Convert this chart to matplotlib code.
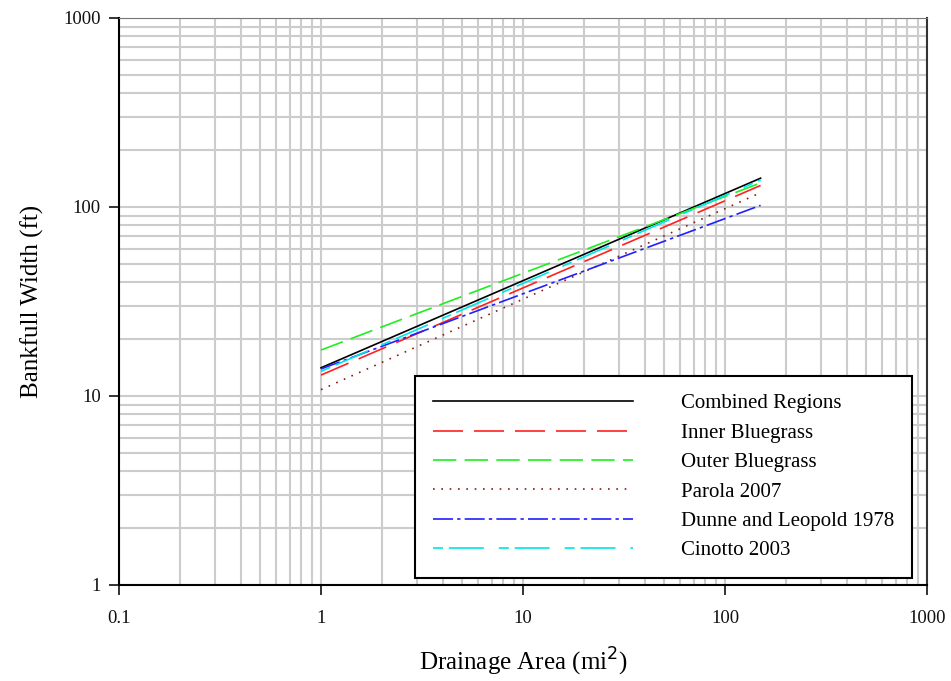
import numpy as np
import matplotlib.pyplot as plt

plt.rcParams['font.family'] = ['Liberation Serif', 'DejaVu Serif']

# Drainage area end points (mi^2) and bankfull width (ft)
area = [1, 150]
combined = [14.1, 142]
inner = [12.9, 130]
outer = [17.5, 134]
parola = [10.8, 119]
dunne = [13.9, 102]
cinotto = [13.5, 139]

labels = ['Combined Regions', 'Inner Bluegrass', 'Outer Bluegrass',
          'Parola 2007', 'Dunne and Leopold 1978', 'Cinotto 2003']

fig = plt.figure(figsize=(9.51, 6.81), dpi=100)
ax = fig.add_axes([0.1251, 0.1410, 0.8497, 0.8326])

lw = 1.2
ax.plot(area, combined, color='black', lw=lw, label=labels[0])
ax.plot(area, inner, color='#ff2020', lw=lw, dashes=(18, 6.6), label=labels[1])
ax.plot(area, outer, color='#20ee20', lw=lw, dashes=(14, 5), label=labels[2])
ax.plot(area, parola, color='#8b1a1a', lw=lw, dashes=(1, 4), label=labels[3])
ax.plot(area, dunne, color='#2020ff', lw=lw, dashes=(12, 2.5, 2, 2.5), label=labels[4])
ax.plot(area, cinotto, color='#00e5e5', lw=lw, dashes=(6, 3.5, 21, 9), label=labels[5])

ax.set_xscale('log')
ax.set_yscale('log')
ax.set_xlim(0.1, 1000)
ax.set_ylim(1, 1000)
ax.set_xticks([0.1, 1, 10, 100, 1000])
ax.set_xticklabels(['0.1', '1', '10', '100', '1000'])
ax.set_yticks([1, 10, 100, 1000])
ax.set_yticklabels(['1', '10', '100', '1000'])

ax.grid(True, which='both', color='#cccccc', lw=1.5)
ax.set_axisbelow(True)
ax.tick_params(which='major', direction='out', length=7, width=1.2,
               labelsize=13.5, colors='#111111')
ax.tick_params(axis='x', pad=11)
ax.tick_params(axis='y', pad=6)
ax.tick_params(which='minor', length=0)
for s in ['left', 'bottom']:
    ax.spines[s].set_linewidth(1.5)
ax.spines['top'].set_color('#777777')
ax.spines['right'].set_color('#333333')
ax.spines['right'].set_linewidth(1.5)

ax.set_xlabel('Drainage Area (mi$^2$)', fontsize=18, labelpad=14)
ax.set_ylabel('Bankfull Width (ft)', fontsize=18, labelpad=14)

leg = ax.legend(loc='lower right', bbox_to_anchor=(0.981, 0.0123),
                borderaxespad=0, fontsize=15, handlelength=9.6,
                handletextpad=2.3, labelspacing=0.47, fancybox=False,
                framealpha=1, edgecolor='black', borderpad=0.85)
leg.get_frame().set_linewidth(1.5)

fig.savefig('out.png', dpi=100)
